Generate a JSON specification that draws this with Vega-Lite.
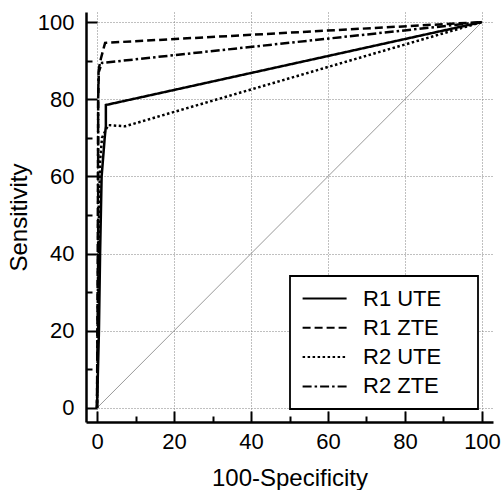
{
  "$schema": "https://vega.github.io/schema/vega-lite/v6.json",
  "width": 407,
  "height": 410,
  "autosize": "none",
  "padding": {"left": 86, "top": 12, "right": 9, "bottom": 68},
  "background": "white",
  "config": {
    "view": {"stroke": null},
    "font": "Liberation Sans",
    "legend": {"strokeWidth": 1.8},
    "axis": {
      "domainColor": "black",
      "domainWidth": 2.5,
      "tickColor": "black",
      "tickWidth": 2,
      "labelColor": "black",
      "labelFont": "Liberation Sans",
      "titleFont": "Liberation Sans",
      "labelFontSize": 22,
      "titleFontSize": 24,
      "titleFontWeight": "normal",
      "titleColor": "black",
      "gridColor": "#808080",
      "gridDash": [1, 2],
      "gridWidth": 1
    }
  },
  "datasets": {
    "roc": [
      {"curve": "R1 UTE", "i": 0, "fpr": 0, "tpr": 0},
      {"curve": "R1 UTE", "i": 1, "fpr": 0.5, "tpr": 20},
      {"curve": "R1 UTE", "i": 2, "fpr": 0.8, "tpr": 40},
      {"curve": "R1 UTE", "i": 3, "fpr": 1.2, "tpr": 60},
      {"curve": "R1 UTE", "i": 4, "fpr": 2.0, "tpr": 70},
      {"curve": "R1 UTE", "i": 5, "fpr": 2.3, "tpr": 73},
      {"curve": "R1 UTE", "i": 6, "fpr": 2.3, "tpr": 78.5},
      {"curve": "R1 UTE", "i": 7, "fpr": 100, "tpr": 100},
      {"curve": "R1 ZTE", "i": 0, "fpr": 0, "tpr": 0},
      {"curve": "R1 ZTE", "i": 1, "fpr": 0.2, "tpr": 40},
      {"curve": "R1 ZTE", "i": 2, "fpr": 0.3, "tpr": 80},
      {"curve": "R1 ZTE", "i": 3, "fpr": 0.5, "tpr": 88},
      {"curve": "R1 ZTE", "i": 4, "fpr": 1.0, "tpr": 90.5},
      {"curve": "R1 ZTE", "i": 5, "fpr": 2.1, "tpr": 94.6},
      {"curve": "R1 ZTE", "i": 6, "fpr": 100, "tpr": 100},
      {"curve": "R2 UTE", "i": 0, "fpr": 0, "tpr": 0},
      {"curve": "R2 UTE", "i": 1, "fpr": 0.4, "tpr": 30},
      {"curve": "R2 UTE", "i": 2, "fpr": 0.6, "tpr": 55},
      {"curve": "R2 UTE", "i": 3, "fpr": 0.8, "tpr": 64},
      {"curve": "R2 UTE", "i": 4, "fpr": 1.3, "tpr": 70},
      {"curve": "R2 UTE", "i": 5, "fpr": 2.9, "tpr": 73.3},
      {"curve": "R2 UTE", "i": 6, "fpr": 7.3, "tpr": 73},
      {"curve": "R2 UTE", "i": 7, "fpr": 100, "tpr": 100},
      {"curve": "R2 ZTE", "i": 0, "fpr": 0, "tpr": 0},
      {"curve": "R2 ZTE", "i": 1, "fpr": 0.3, "tpr": 40},
      {"curve": "R2 ZTE", "i": 2, "fpr": 0.3, "tpr": 80},
      {"curve": "R2 ZTE", "i": 3, "fpr": 0.4, "tpr": 87},
      {"curve": "R2 ZTE", "i": 4, "fpr": 1.3, "tpr": 89.4},
      {"curve": "R2 ZTE", "i": 5, "fpr": 100, "tpr": 100}
    ],
    "diag": [
      {"fpr": 0, "tpr": 0},
      {"fpr": 100, "tpr": 100}
    ]
  },
  "layer": [
    {
      "data": {"name": "diag"},
      "mark": {"type": "line", "color": "#999999", "strokeWidth": 1},
      "encoding": {
        "x": {
          "field": "fpr", "type": "quantitative",
          "scale": {"domain": [-2.86, 102.86], "nice": false, "zero": false},
          "axis": {
            "title": "100-Specificity",
            "titlePadding": 9,
            "values": [0, 5, 10, 15, 20, 25, 30, 35, 40, 45, 50, 55, 60, 65, 70, 75, 80, 85, 90, 95, 100],
            "labelExpr": "datum.value % 20 === 0 ? datum.label : ''",
            "tickSize": {"condition": {"test": "datum.value % 20 === 0", "value": -11}, "value": -6},
            "gridOpacity": {"condition": {"test": "datum.value % 20 === 0", "value": 1}, "value": 0},
            "labelPadding": 20,
            "labelFlush": false,
            "labelOverlap": false
          }
        },
        "y": {
          "field": "tpr", "type": "quantitative",
          "scale": {"domain": [-3.63, 102.6], "nice": false, "zero": false},
          "axis": {
            "title": "Sensitivity",
            "titlePadding": 6,
            "values": [0, 5, 10, 15, 20, 25, 30, 35, 40, 45, 50, 55, 60, 65, 70, 75, 80, 85, 90, 95, 100],
            "labelExpr": "datum.value % 20 === 0 ? datum.label : ''",
            "tickSize": {"condition": {"test": "datum.value % 20 === 0", "value": -11}, "value": -6},
            "gridOpacity": {"condition": {"test": "datum.value % 20 === 0", "value": 1}, "value": 0},
            "labelPadding": 23,
            "labelFlush": false,
            "labelOverlap": false
          }
        }
      }
    },
    {
      "data": {"name": "roc"},
      "mark": {"type": "line", "color": "black", "strokeWidth": 2.5},
      "encoding": {
        "x": {"field": "fpr", "type": "quantitative"},
        "y": {"field": "tpr", "type": "quantitative"},
        "order": {"field": "i", "type": "quantitative"},
        "strokeDash": {
          "field": "curve", "type": "nominal",
          "scale": {
            "domain": ["R1 UTE", "R1 ZTE", "R2 UTE", "R2 ZTE"],
            "range": [[1, 0], [8, 4], [2.5, 2.5], [9, 3, 2.5, 3]]
          },
          "legend": {
            "title": null,
            "orient": "none",
            "legendX": 204,
            "legendY": 264,
            "strokeColor": "black",
            "fillColor": "white",
            "padding": 11.5,
            "labelFont": "Liberation Sans",
            "labelFontSize": 22,
            "labelColor": "black",
            "labelOffset": 39.5,
            "labelExpr": "datum.label + '\u00a0\u00a0\u00a0\u00a0\u200b'",
            "symbolType": "M-1.8,0L6.2,0",
            "symbolSize": 121,
            "symbolStrokeWidth": 2,
            "symbolStrokeColor": "black",
            "symbolFillColor": "transparent",
            "rowPadding": 7.3,
            "labelLimit": 400
          }
        }
      }
    }
  ]
}
